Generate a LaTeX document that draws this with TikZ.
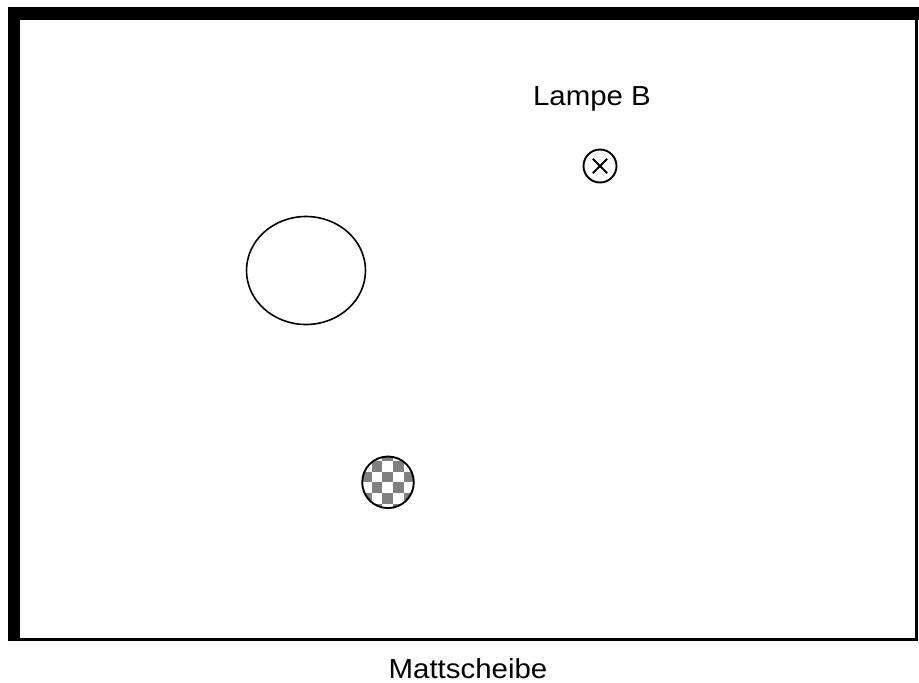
\documentclass[tikz,border=0pt]{standalone}
\usepackage{fontspec}
\setmainfont{Liberation Sans}
\usetikzlibrary{calc}
\begin{document}
\begin{tikzpicture}[x=1pt,y=-1pt,
  lbl/.style={font=\fontsize{27.5}{32}\selectfont, inner sep=0pt, anchor=base, xscale=1.07},
  thin/.style={line width=1.6pt},
  checkgray/.style={fill=black!50}]
\useasboundingbox (0,0) rectangle (919,683);
% frame
\fill (7.5,16) rectangle (19,641);
\fill (8,7) rectangle (919,19.5);
\draw[line width=2.4pt] (19,19) rectangle (916.5,639.5);
% lamp B
\node[lbl] (lampelabel) at (592,105) {Lampe B};
\node[draw, circle, line width=1.9pt, minimum size=33pt, inner sep=0pt] (lampe) at (600,166) {};
\draw[line width=1.9pt] ($(lampe.center)+(-7.2,-7.2)$) -- ($(lampe.center)+(7.2,7.2)$);
\draw[line width=1.9pt] ($(lampe.center)+(-7.2,7.2)$) -- ($(lampe.center)+(7.2,-7.2)$);
% ellipse
\draw[thin] (306,270.5) ellipse [x radius=59.5, y radius=54];
% checkered disc
\begin{scope}
  \clip (388,482.3) circle (25.8);
  \foreach \i in {-2,...,3} {
    \foreach \j in {-2,...,3} {
      \pgfmathtruncatemacro{\parityval}{mod(\i+\j+10,2)}
      \ifnum\parityval=1
        \fill[checkgray] ({371.7+10.7*\i},{471.7+10.7*\j}) rectangle ++(10.7,10.7);
      \fi
    }
  }
\end{scope}
\node[draw, circle, line width=1.9pt, minimum size=51.6pt, inner sep=0pt] (disc) at (388,482.3) {};
% bottom label
\node[lbl] (matt) at (468,678) {Mattscheibe};
\end{tikzpicture}
\end{document}
